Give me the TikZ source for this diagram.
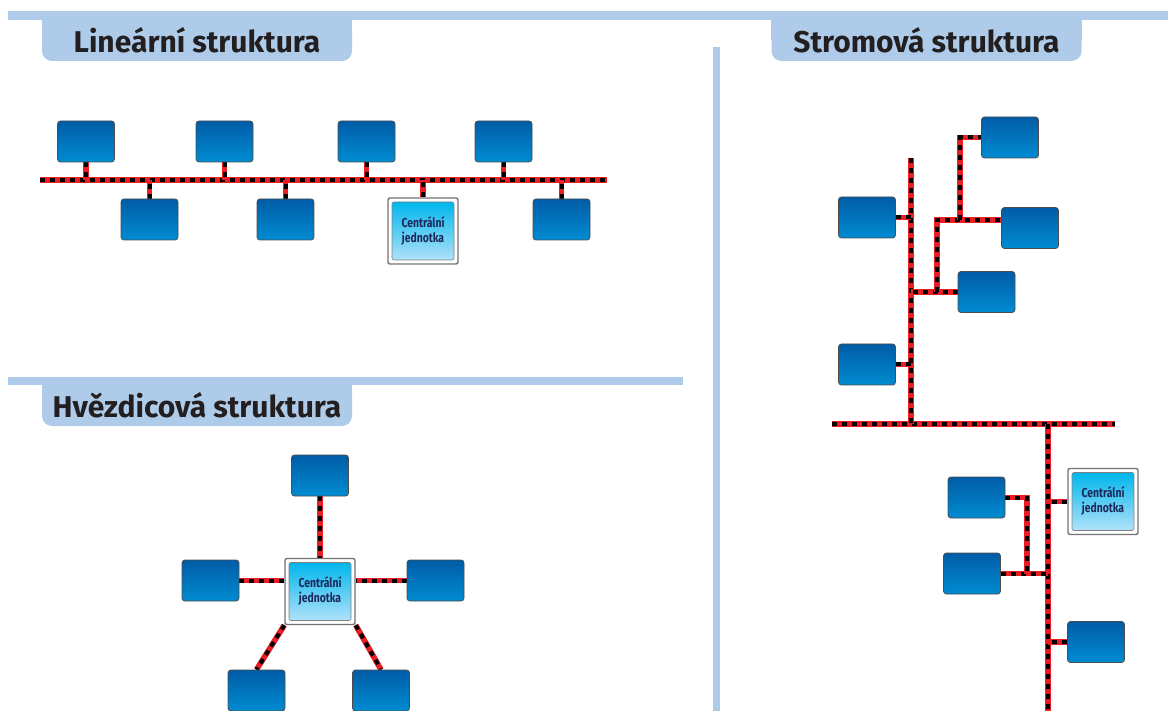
\documentclass[tikz,border=0pt]{standalone}
\usepackage{fontspec}
\setmainfont{Fira Sans}
\newfontfamily\condfont[FakeStretch=0.8]{Fira Sans}
\usetikzlibrary{positioning}
\definecolor{bandblue}{RGB}{174,204,234}
\definecolor{boxtop}{RGB}{0,92,166}
\definecolor{boxbot}{RGB}{0,140,210}
\definecolor{unittop}{RGB}{0,182,236}
\definecolor{unitbot}{RGB}{176,226,250}
\definecolor{cabred}{RGB}{232,30,36}
\definecolor{titletext}{RGB}{35,31,32}
\definecolor{unittext}{RGB}{28,40,92}
\pgfdeclarelayer{bg}
\pgfsetlayers{bg,main}
\begin{document}
\begin{tikzpicture}[
    x=0.5pt, y=-0.5pt,
    pc/.style={rectangle, draw=black!70, line width=0.4pt, rounded corners=1.5pt, top color=boxtop, bottom color=boxbot, minimum width=28.5pt, minimum height=20.5pt, inner sep=0pt},
    unitframe/.style={rectangle, draw=black!55, line width=0.7pt, fill=white, rounded corners=1pt, minimum width=35pt, minimum height=33pt, inner sep=0pt},
    unit/.style={rectangle, draw=black!50, line width=0.3pt, rounded corners=1pt, top color=unittop, bottom color=unitbot, minimum width=31pt, minimum height=29pt, inner sep=0pt, align=center, font=\condfont\bfseries\fontsize{6.5}{7.5}\selectfont, text=unittext},
    titletab/.style={rectangle, fill=bandblue, rounded corners=5pt, minimum width=155pt, minimum height=20.5pt, inner sep=0pt, font=\bfseries\fontsize{15}{17}\selectfont, text=titletext},
    bandfill/.style={fill=bandblue},
    cable/.style={line width=2.8pt, draw=cabred, postaction={draw=black, line width=2pt, dash pattern=on 2.5pt off 2.5pt}}
  ]
    \useasboundingbox (0,0) rectangle (1168,711);

    % bands and titles
    \fill[bandfill] (8,11) rectangle (1168,20);
    \fill[bandfill] (8,377) rectangle (683,385);
    \fill[bandfill] (713,47) rectangle (720,711);
    \node[titletab] (t1) at (197,40.5) {Lineární struktura};
    \node[titletab] (t2) at (926.5,40.5) {Stromová struktura};
    \node[titletab] (t3) at (197,405.5) {Hvězdicová struktura};
    \begin{pgfonlayer}{bg}
      \fill[bandfill] (t1.north west) rectangle (t1.east);
      \fill[bandfill] (t2.north west) rectangle (t2.east);
      \fill[bandfill] (t3.north west) rectangle (t3.east);
    \end{pgfonlayer}

    % linear
    \node[pc] (l1) at (86,141.5) {};
    \node[pc] (l2) at (224.5,141.5) {};
    \node[pc] (l3) at (366.5,141.5) {};
    \node[pc] (l4) at (503.5,141.5) {};
    \node[pc] (l5) at (149.5,219.5) {};
    \node[pc] (l6) at (285.5,219.5) {};
    \node[pc] (l7) at (561.5,219.5) {};
    \node[unitframe] (c1) at (423,231) {};
    \node[unit] (c1in) at (c1) {Centrální\\jednotka};
    \coordinate (busW1) at (40,180);
    \coordinate (busE1) at (607,180);

    % star
    \node[unitframe] (s0) at (320,591.5) {};
    \node[unit] (s0in) at (s0) {Centrální\\jednotka};
    \node[pc] (s1) at (320,475.5) {};
    \node[pc] (s2) at (210.5,580.5) {};
    \node[pc] (s3) at (435.5,580.5) {};
    \node[pc] (s4) at (256.5,690.5) {};
    \node[pc] (s5) at (381,690.5) {};

    % tree
    \node[pc] (a1) at (867,217.5) {};
    \node[pc] (a2) at (867,364.5) {};
    \node[pc] (a3) at (986.5,292) {};
    \node[pc] (a4) at (1030,228) {};
    \node[pc] (a5) at (1010,137.5) {};
    \node[unitframe] (c2) at (1103,501.5) {};
    \node[unit] (c2in) at (c2) {Centrální\\jednotka};
    \node[pc] (b1) at (976.5,497.5) {};
    \node[pc] (b2) at (972,573.5) {};
    \node[pc] (b3) at (1096,642) {};
    \coordinate (tTop) at (911,158);
    \coordinate (tBus) at (911,424);
    \coordinate (busW2) at (832,424);
    \coordinate (busE2) at (1115,424);
    \coordinate (tJoin) at (1048,424);
    \coordinate (tBot) at (1048,711);
    \coordinate (k1) at (937,0);
    \coordinate (k2) at (960,0);
    \coordinate (k3) at (1027,0);
    \coordinate (a4in) at ([yshift=4pt]a4.west);

    \begin{pgfonlayer}{bg}
      \draw[cable] (busW1) -- (busE1);
      \foreach \n in {l1,l2,l3,l4}
        \draw[cable] (\n.south) -- (\n.south |- busW1);
      \foreach \n in {l5,l6,l7,c1}
        \draw[cable] (\n.north) -- (\n.north |- busW1);

      \draw[cable] (s1.south) -- (s0.north);
      \draw[cable] (s2.east) -- (s2.east -| s0.west);
      \draw[cable] (s3.west) -- (s3.west -| s0.east);
      \draw[cable] (s0.south west) -- (s4.north);
      \draw[cable] (s0.south east) -- (s5.north);

      \draw[cable] (busW2) -- (busE2);
      \draw[cable] (tTop) -- (tBus);
      \draw[cable] (tJoin) -- (tBot);
      \draw[cable] (a1.east) -- (a1.east -| tTop);
      \draw[cable] (a2.east) -- (a2.east -| tTop);
      \draw[cable] (a3.west) -- (a3.west -| tTop);
      \draw[cable] (k1 |- a3.west) |- (a4in);
      \draw[cable] (k2 |- a4in) |- (a5.west);
      \draw[cable] (c2.west) -- (c2.west -| tJoin);
      \draw[cable] (b2.east) -- (b2.east -| tJoin);
      \draw[cable] (b1.east) -| (k3 |- b2.east);
      \draw[cable] (b3.west) -- (b3.west -| tJoin);
    \end{pgfonlayer}
  \end{tikzpicture}
\end{document}
